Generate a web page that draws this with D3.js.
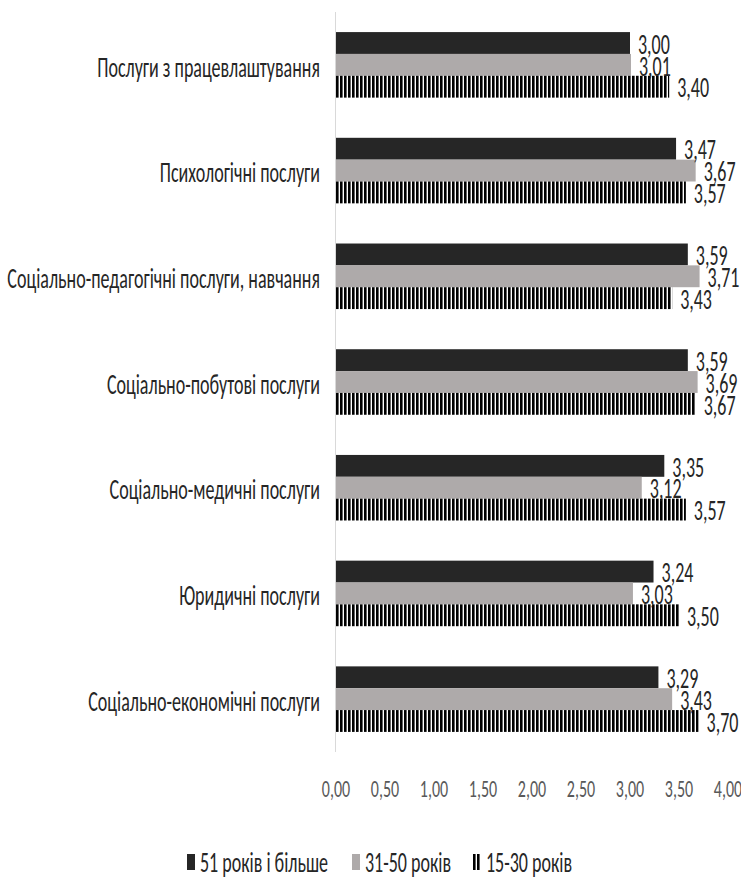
<!DOCTYPE html>
<html>
<head>
<meta charset="utf-8">
<script src="https://cdn.jsdelivr.net/npm/d3@7"></script>
<style>
  body { margin: 0; background: #fff; }
  text { font-family: Carlito, Lato, sans-serif; fill: #262626; }
</style>
</head>
<body>
<svg width="741" height="881"></svg>
<script>
const categories = [
    "Послуги з працевлаштування",
    "Психологічні послуги",
    "Соціально-педагогічні послуги, навчання",
    "Соціально-побутові послуги",
    "Соціально-медичні послуги",
    "Юридичні послуги",
    "Соціально-економічні послуги"
];
const seriesNames = ["51 років і більше", "31-50 років", "15-30 років"];
const older = [3.00, 3.47, 3.59, 3.59, 3.35, 3.24, 3.29];
const middle = [3.01, 3.67, 3.71, 3.69, 3.12, 3.03, 3.43];
const young = [3.40, 3.57, 3.43, 3.67, 3.57, 3.50, 3.70];
const tickValues = [0, 0.5, 1, 1.5, 2, 2.5, 3, 3.5, 4];

const chart = () => {
    const margin = { top: 12, left: 336, right: 13, bottom: 129 };
    const width = 741, height = 881;
    const stretch = 1.55;   // the original text is tall and narrow

    const svg = d3.select("svg");
    const fmt = v => d3.format(".2f")(v).replace(".", ",");

    // stripes for the youngest group
    svg.append("defs").append("pattern")
        .attr("id", "stripes")
        .attr("patternUnits", "userSpaceOnUse")
        .attr("width", 4).attr("height", 4)
      .append("rect")
        .attr("width", 2.6).attr("height", 4)
        .attr("fill", "#000");

    const colors = ["#262626", "#aeaaaa", "url(#stripes)"];

    const x = d3.scaleLinear()
        .domain([0, 4])
        .range([margin.left, width - margin.right]);

    const y = d3.scaleBand()
        .domain(categories)
        .range([margin.top, height - margin.bottom])
        .paddingInner(0.38)
        .paddingOuter(0.19);

    const ySub = d3.scaleBand()
        .domain(seriesNames)
        .range([0, y.bandwidth()]);

    const rows = categories.map((c, i) => ({
        name: c,
        values: [older[i], middle[i], young[i]].map((v, j) => ({ series: seriesNames[j], value: v, k: j }))
    }));

    // stretched text helper
    const label = (sel, size, anchor) => sel.append("text")
        .attr("transform", `scale(1,${stretch})`)
        .attr("text-anchor", anchor)
        .attr("dy", "0.35em")
        .style("font-size", size + "px");

    // category axis line
    svg.append("line")
        .attr("x1", x(0) - 0.5).attr("x2", x(0) - 0.5)
        .attr("y1", margin.top).attr("y2", height - margin.bottom)
        .attr("stroke", "#d9d9d9");

    const groups = svg.append("g").selectAll("g")
        .data(rows)
        .join("g")
        .attr("transform", d => `translate(0,${y(d.name)})`);

    groups.selectAll("rect")
        .data(d => d.values)
        .join("rect")
        .attr("x", x(0))
        .attr("y", d => ySub(d.series))
        .attr("width", d => x(d.value) - x(0))
        .attr("height", ySub.bandwidth())
        .attr("fill", d => colors[d.k]);

    groups.selectAll("g.val")
        .data(d => d.values)
        .join("g")
        .attr("class", "val")
        .attr("transform", d => `translate(${x(d.value) + 8},${ySub(d.series) + ySub.bandwidth() / 2 + 1})`)
        .each(function (d) { label(d3.select(this), 18, "start").text(fmt(d.value)); });

    // category labels
    svg.append("g").selectAll("g")
        .data(categories)
        .join("g")
        .attr("transform", d => `translate(320,${y(d) + y.bandwidth() / 2 + 2})`)
        .each(function (d) { label(d3.select(this), 18, "end").text(d); });

    // value axis labels
    svg.append("g").selectAll("g")
        .data(tickValues)
        .join("g")
        .attr("transform", d => `translate(${x(d)},788)`)
        .each(function (d) {
            label(d3.select(this), 16, "middle").style("fill", "#595959").text(fmt(d));
        });

    // legend
    const legendX = [187, 352, 473];
    const legend = svg.append("g").selectAll("g")
        .data(seriesNames)
        .join("g")
        .attr("transform", (d, i) => `translate(${legendX[i]},862)`);
    legend.append("rect")
        .attr("x", 0).attr("y", -8)
        .attr("width", 8).attr("height", 16)
        .attr("fill", (d, i) => colors[i]);
    legend.append("g")
        .attr("transform", "translate(13,0)")
        .each(function (d) { label(d3.select(this), 18, "start").text(d); });
};

chart();
</script>
</body>
</html>
